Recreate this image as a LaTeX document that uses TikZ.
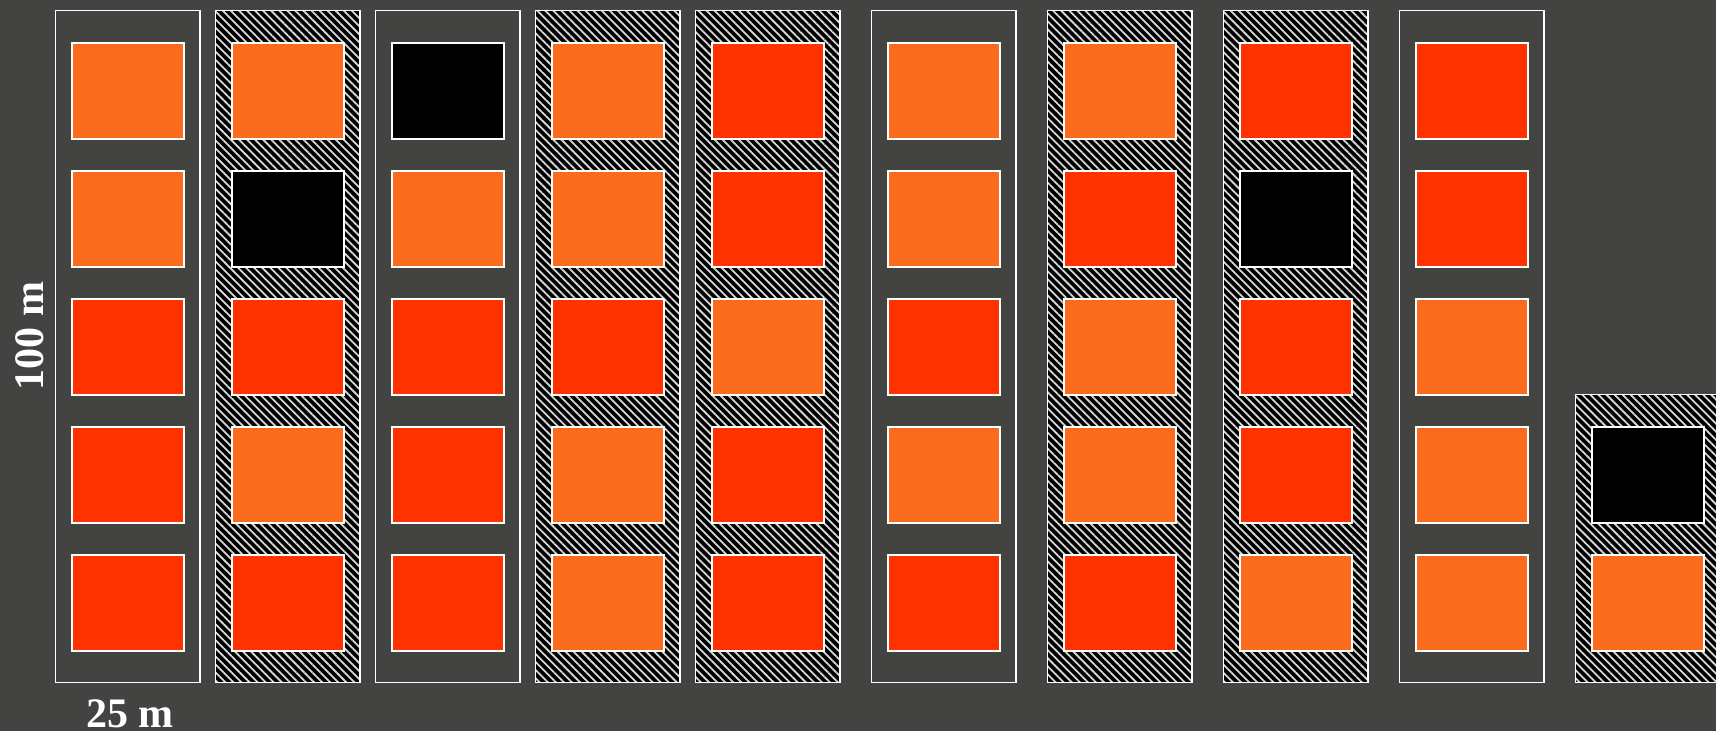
\documentclass[tikz,border=0pt]{standalone}
\usepackage{fontspec}
\setmainfont{Liberation Serif}
\usetikzlibrary{patterns.meta}
\definecolor{bgclr}{RGB}{67,67,65}
\definecolor{clrO}{RGB}{250,107,29}
\definecolor{clrR}{RGB}{255,51,0}
\definecolor{clrK}{RGB}{0,0,0}
\definecolor{hatchclr}{RGB}{215,215,215}
\tikzset{
  stripbox/.style={rectangle,draw=white,line width=0.75pt,
    minimum width=72.25pt,minimum height=335.9pt,inner sep=0pt},
  hatchbox/.style={stripbox,preaction={fill=black},
    pattern={Lines[angle=-45,distance=2.85pt,line width=0.9pt]},
    pattern color=hatchclr},
  plotbox/.style={rectangle,draw=white,line width=0.75pt,
    minimum width=56pt,minimum height=48pt,inner sep=0pt},
  dimlbl/.style={text=white,font=\fontsize{21}{25}\selectfont\bfseries,
    inner sep=0pt},
}

\begin{document}
\begin{tikzpicture}[x=0.5pt,y=-0.5pt]

  % canvas
  \fill[bgclr] (0,0) rectangle (1716,731);
  \clip (0,0) rectangle (1716,731);

  % full strips, plots from top to bottom
  \foreach \i/\xl/\kind/\cols in {
    1/55.5/stripbox/{O,O,R,R,R},
    2/215.5/hatchbox/{O,K,R,O,R},
    3/375.5/stripbox/{K,O,R,R,R},
    4/535.5/hatchbox/{O,O,R,O,O},
    5/695.5/hatchbox/{R,R,O,R,R},
    6/871.5/stripbox/{O,O,R,O,R},
    7/1047.5/hatchbox/{O,R,O,O,R},
    8/1223.5/hatchbox/{R,K,R,R,O},
    9/1399.5/stripbox/{R,R,O,O,O}}{
    \node[\kind] (s\i) at (\xl+72.25,346.4) {};
    \foreach \c [count=\j] in \cols {
      \node[plotbox,fill=clr\c] (p-\i-\j) at (\xl+72.25,91+128*\j-128) {};
    }
  }

  % short strip at the right edge
  \node[hatchbox,minimum height=144.1pt] (s10) at (1647.75,538.4) {};
  \node[plotbox,fill=clrK] (p-10-4) at (1647.75,475) {};
  \node[plotbox,fill=clrO] (p-10-5) at (1647.75,603) {};

  % scale labels
  \node[dimlbl,anchor=base] (wlbl) at (130,727) {25 m};
  \node[dimlbl,anchor=base,rotate=90] (hlbl) at (43,336) {100 m};

\end{tikzpicture}
\end{document}
